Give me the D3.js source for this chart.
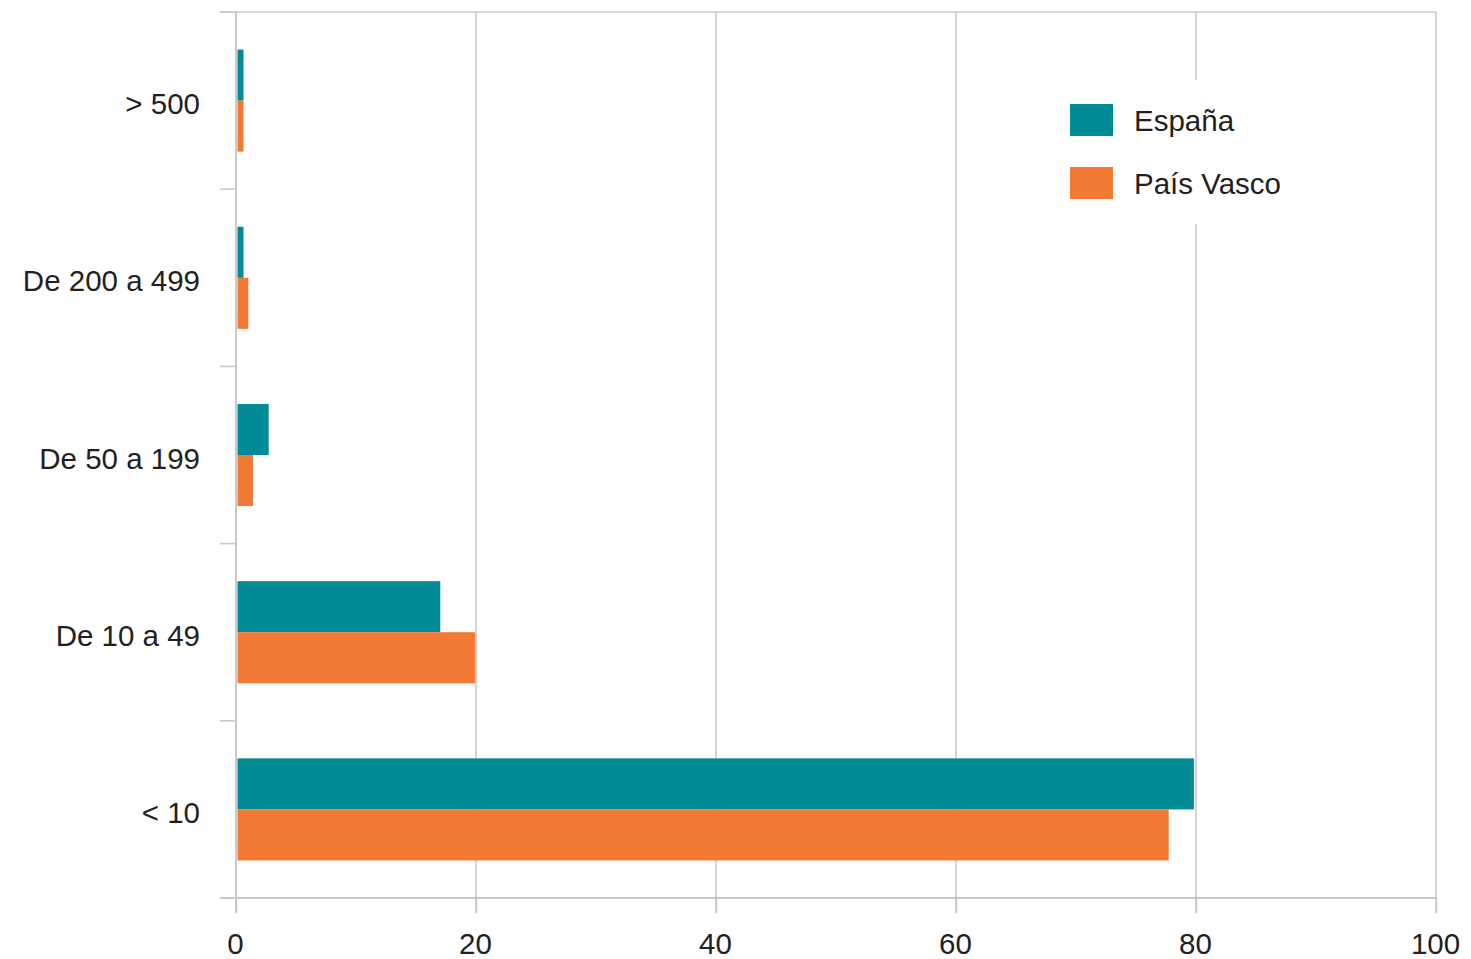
<!DOCTYPE html>
<html>
<head>
<meta charset="utf-8">
<script src="https://cdn.jsdelivr.net/npm/d3@7"></script>
<style>
  html, body { margin: 0; padding: 0; background: #fff; }
  svg { display: block; }
  text { font-family: "Liberation Sans", Arial, Helvetica, sans-serif; fill: #231f20; }
</style>
</head>
<body>
<svg id="chart" width="1471" height="959"></svg>
<script>
const categories = ["> 500", "De 200 a 499", "De 50 a 199", "De 10 a 49", "< 10"];
const seriesNames = ["España", "País Vasco"];
const espana = [0.5, 0.5, 2.6, 16.9, 79.7];
const paisVasco = [0.5, 0.9, 1.3, 19.8, 77.6];
const xTicks = [0, 20, 40, 60, 80, 100];
const colors = ["#008b96", "#f37a35"];

(function () {
const svg = d3.select("#chart");
const pLeft = 236, pRight = 1436, pTop = 12, pBottom = 898;
const fs = 29.5;

const x = d3.scaleLinear().domain([0, 100]).range([pLeft, pRight]);
const y = d3.scaleBand().domain(categories).range([pTop, pBottom]).paddingInner(0.424).paddingOuter(0.212);
const ySub = d3.scaleBand().domain(seriesNames).range([0, y.bandwidth()]);

const grid = "#c9c9c9";

// vertical gridlines
svg.append("g").selectAll("line").data(xTicks.slice(1)).join("line")
  .attr("x1", d => x(d)).attr("x2", d => x(d))
  .attr("y1", pTop).attr("y2", pBottom + 15)
  .attr("stroke", grid).attr("stroke-width", 1.6);

// top border
svg.append("line").attr("x1", pLeft - 16).attr("x2", pRight).attr("y1", pTop).attr("y2", pTop)
  .attr("stroke", grid).attr("stroke-width", 1.6);

// bottom axis
const xAxis = d3.axisBottom(x).tickValues(xTicks).tickSize(15).tickPadding(20).tickFormat(d3.format("d"));
const gx = svg.append("g").attr("transform", `translate(0,${pBottom})`).call(xAxis);
gx.select(".domain").remove();
gx.selectAll(".tick line").attr("stroke", grid).attr("stroke-width", 1.6);
gx.selectAll(".tick text").attr("font-size", fs).attr("fill", "#231f20").attr("dx", -1)
  .attr("font-family", "Liberation Sans, Arial, sans-serif");
svg.append("line").attr("x1", pLeft - 16).attr("x2", pRight).attr("y1", pBottom).attr("y2", pBottom)
  .attr("stroke", "#b8b8b8").attr("stroke-width", 1.6);

// left axis with boundary ticks
const bounds = categories.map(c => y(c) - y.step() * y.paddingInner() / 2).concat([pBottom]);
svg.append("g").selectAll("line").data(bounds).join("line")
  .attr("x1", pLeft - 16).attr("x2", pLeft).attr("y1", d => d).attr("y2", d => d)
  .attr("stroke", grid).attr("stroke-width", 1.6);
svg.append("line").attr("x1", pLeft).attr("x2", pLeft).attr("y1", pTop).attr("y2", pBottom + 15)
  .attr("stroke", grid).attr("stroke-width", 2);

// category labels
svg.append("g").selectAll("text").data(categories).join("text")
  .attr("x", 200).attr("y", d => y(d) + y.bandwidth() / 2 + 3)
  .attr("text-anchor", "end").attr("dominant-baseline", "central")
  .attr("font-size", fs).text(d => d);

// bars
const data = categories.map((c, i) => ({ c, vals: [espana[i], paisVasco[i]] }));
const groups = svg.append("g").selectAll("g").data(data).join("g")
  .attr("transform", d => `translate(0,${y(d.c)})`);
groups.selectAll("rect").data(d => d.vals.map((v, j) => ({ v, s: seriesNames[j], j }))).join("rect")
  .attr("x", x(0) + 1.5)
  .attr("y", d => ySub(d.s))
  .attr("width", d => x(d.v) - x(0))
  .attr("height", ySub.bandwidth())
  .attr("fill", d => colors[d.j]);

// legend
const lg = svg.append("g");
lg.append("rect").attr("x", 1045).attr("y", 80).attr("width", 260).attr("height", 144).attr("fill", "#fff");
seriesNames.forEach((s, i) => {
  const cy = 120 + i * 63;
  lg.append("rect").attr("x", 1070).attr("y", cy - 16).attr("width", 43).attr("height", 32).attr("fill", colors[i]);
  lg.append("text").attr("x", 1134).attr("y", cy).attr("dominant-baseline", "central")
    .attr("font-size", fs).text(s);
});
})();
</script>
</body>
</html>
